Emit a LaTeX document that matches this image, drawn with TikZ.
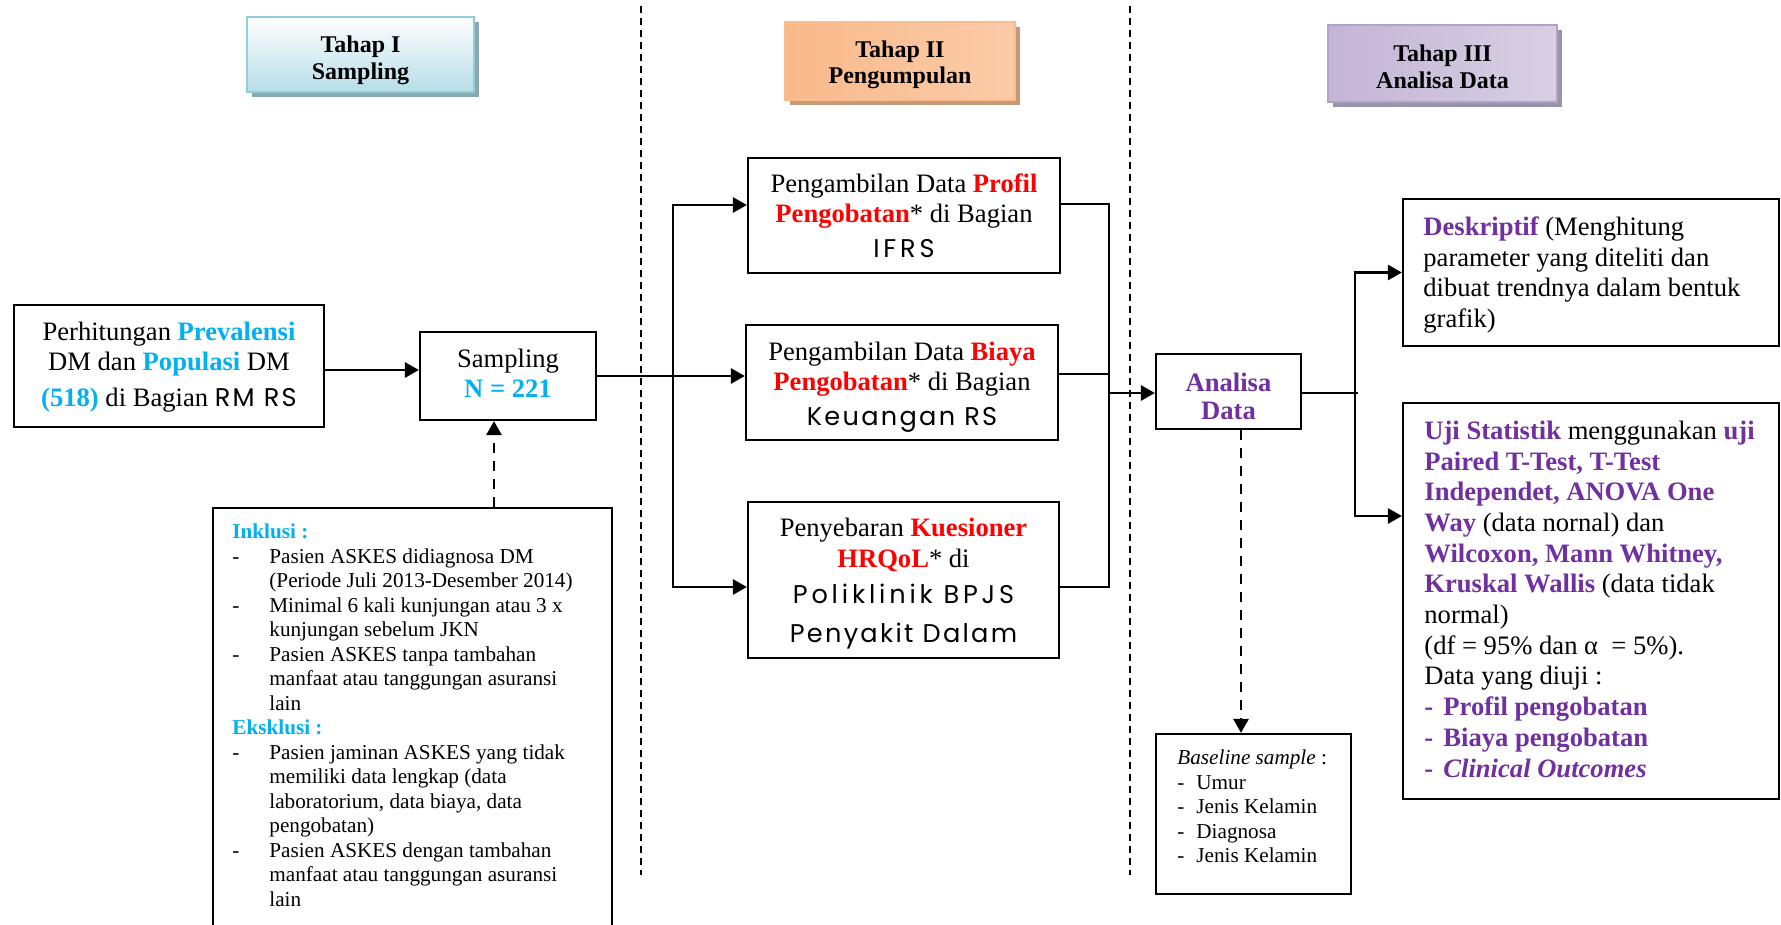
\documentclass[tikz,border=0pt]{standalone}
\usepackage{fontspec}
\setmainfont{Liberation Serif}
\newfontfamily\gothic{Poppins}[LetterSpace=9]
\newfontfamily\gothicw{Poppins}[LetterSpace=15]
\usetikzlibrary{arrows.meta,calc,shadows}

\definecolor{cyanb}{HTML}{00B0F0}
\definecolor{redb}{HTML}{FF0000}
\definecolor{purp}{HTML}{7030A0}
\definecolor{tAline}{HTML}{92CDDC}
\definecolor{tAbot}{HTML}{B6DDE8}
\definecolor{tAshadow}{HTML}{8AA8B0}
\definecolor{tBline}{HTML}{F9BE8E}
\definecolor{tBleft}{HTML}{F9B98A}
\definecolor{tBmid}{HTML}{FDEBDD}
\definecolor{tBright}{HTML}{FBCBA8}
\definecolor{tBshadow}{HTML}{C49A78}
\definecolor{tCline}{HTML}{B2A2C7}
\definecolor{tCleft}{HTML}{C3B5D6}
\definecolor{tCmid}{HTML}{F1EEF5}
\definecolor{tCright}{HTML}{D8CFE4}
\definecolor{tCshadow}{HTML}{9696A4}

\newcommand\cy[1]{\textbf{\color{cyanb}#1}}
\newcommand\rd[1]{\textbf{\color{redb}#1}}
\newcommand\pu[1]{\textbf{\color{purp}#1}}
\newcommand\inkdash{\makebox[18.5pt][l]{-}}
\newcommand\inkind{\hspace*{18.5pt}}
\newcommand\bldash{\makebox[9.5pt][l]{-}}
\newcommand\pudash{\makebox[9.5pt][l]{\pu{-}}}
\newcommand\bodysz{\fontsize{13.3}{15}\selectfont}
\newcommand\smallsz{\fontsize{10.6}{12.25}\selectfont}
\newcommand\tahapsz{\bfseries\fontsize{12}{13.2}\selectfont}
\newcommand\gsz{\gothic\fontsize{12.8}{15}\selectfont}
\newcommand\gwsz{\gothicw\fontsize{12.8}{15}\selectfont}
% invisible struts that move a centred text block down or up
\newcommand\lift[1]{\rule{0pt}{#1}}
\newcommand\sink[1]{\rule[-#1]{0pt}{0pt}}

\begin{document}
\begin{tikzpicture}[x=0.5pt,y=-0.5pt,
  size/.style 2 args={minimum width=#1*0.5pt, minimum height=#2*0.5pt},
  box/.style={draw, line width=1.1pt, inner sep=0pt, align=center, font=\bodysz},
  frame/.style={draw, line width=1.1pt, inner sep=0pt},
  txt/.style={inner sep=0pt, align=left},
  tahap/.style={draw, line width=1pt, inner sep=0pt, align=center, font=\tahapsz},
  arr/.style={line width=1.4pt, -{Triangle[length=7pt,width=7.5pt]}},
  darr/.style={line width=1.4pt, dash pattern=on 5pt off 4pt, -{Triangle[length=7pt,width=7.5pt]}},
  ln/.style={line width=0.9pt},
  sep/.style={line width=0.75pt, dash pattern=on 3.5pt off 2.5pt}]

\fill[white] (0,0) rectangle (1781,925);
\useasboundingbox (0,0) rectangle (1781,925);

% stage separators
\draw[sep] (641,6) -- (641,875);
\draw[sep] (1130,6) -- (1130,875);

% stage headers
\node[tahap, size={227}{75}, draw=tAline, top color=white, bottom color=tAbot,
  drop shadow={shadow xshift=2.5pt, shadow yshift=-2.5pt, fill=tAshadow, opacity=1}]
  (t1) at (360.5,54.5) {\lift{14.2pt}Tahap I\\Sampling};
\node[tahap, size={230}{78}, draw=tBline, left color=tBleft, middle color=tBmid, right color=tBright,
  drop shadow={shadow xshift=2.5pt, shadow yshift=-2.5pt, fill=tBshadow, opacity=1}]
  (t2) at (900,61) {\lift{12.2pt}Tahap II\\Pengumpulan};
\node[tahap, size={229}{77}, draw=tCline, left color=tCleft, middle color=tCmid, right color=tCright,
  drop shadow={shadow xshift=2.5pt, shadow yshift=-2.5pt, fill=tCshadow, opacity=1}]
  (t3) at (1442.5,63.5) {\lift{11.6pt}Tahap III\\Analisa Data};

% stage I
\node[box, size={310}{122}] (L) at (169,366)
  {\lift{10.5pt}Perhitungan \cy{Prevalensi}\\ DM dan \cy{Populasi} DM\\[3pt] \cy{(518)} di Bagian {\gsz RM RS}};
\node[box, size={176}{88}] (S) at (508,376) {Sampling\\ \cy{N = 221}\sink{3pt}};
\node[frame, anchor=north west, size={399}{440}] (I) at (212,507) {};
\node[txt, anchor=north west, font=\smallsz] (Itxt) at (232,523.5) {%
\cy{Inklusi :}\\
\inkdash Pasien ASKES didiagnosa DM\\
\inkind (Periode Juli 2013-Desember 2014)\\
\inkdash Minimal 6 kali kunjungan atau 3 x\\
\inkind kunjungan sebelum JKN\\
\inkdash Pasien ASKES tanpa tambahan\\
\inkind manfaat atau tanggungan asuransi\\
\inkind lain\\
\cy{Eksklusi :}\\
\inkdash Pasien jaminan ASKES yang tidak\\
\inkind memiliki data lengkap (data\\
\inkind laboratorium, data biaya, data\\
\inkind pengobatan)\\
\inkdash Pasien ASKES dengan tambahan\\
\inkind manfaat atau tanggungan asuransi\\
\inkind lain};

% stage II
\node[box, size={312}{115}] (P1) at (904,215.5)
  {Pengambilan Data \rd{Profil}\\ \rd{Pengobatan}* di Bagian\\[2.5pt] {\gwsz IFRS}};
\node[box, size={312}{115}] (P2) at (902,382.5)
  {\lift{14.2pt}Pengambilan Data \rd{Biaya}\\ \rd{Pengobatan}* di Bagian\\[2.5pt] {\gsz Keuangan RS}};
\node[box, size={311}{156}] (P3) at (903.5,580)
  {\lift{12.6pt}Penyebaran \rd{Kuesioner}\\[0.5pt] \rd{HRQoL}* di\\[3pt] {\gwsz Poliklinik BPJS}\\[4.5pt] {\gsz Penyakit Dalam}};

% stage III
\node[box, size={145}{75}, font=\bfseries\fontsize{13.3}{14.3}\selectfont, text=purp] (A) at (1228.5,391.5)
  {\lift{14.2pt}Analisa\\Data};
\node[frame, size={195}{160}] (B) at (1253.5,814) {};
\node[txt, anchor=north west, font=\smallsz] (Btxt) at (1177,749.6) {%
\textit{Baseline sample} :\\
\bldash Umur\\
\bldash Jenis Kelamin\\
\bldash Diagnosa\\
\bldash Jenis Kelamin};
\node[frame, size={376}{147}] (D) at (1591,272.5) {};
\node[txt, anchor=north west, font=\fontsize{13.3}{15.25}\selectfont] (Dtxt) at (1423,216.5) {%
\pu{Deskriptif} (Menghitung\\
parameter yang diteliti dan\\
dibuat trendnya dalam bentuk\\
grafik)};
\node[frame, size={376}{396}] (U) at (1591,601) {};
\node[txt, anchor=north west, font=\fontsize{13.3}{15.35}\selectfont] (Utxt) at (1424,420.5) {%
\pu{Uji Statistik} menggunakan \pu{uji}\\
\pu{Paired T-Test, T-Test}\\
\pu{Independet, ANOVA One}\\
\pu{Way} (data nornal) dan\\
\pu{Wilcoxon, Mann Whitney,}\\
\pu{Kruskal Wallis} (data tidak\\
normal)\\
(df = 95\% dan α\enspace = 5\%).\\
Data yang diuji :\\
\pudash\pu{Profil pengobatan}\\
\pudash\pu{Biaya pengobatan}\\
\pudash{\color{purp}\bfseries\itshape Clinical Outcomes}};

% connectors: stage I
\draw[arr] ([yshift=-2pt]L.east) -- ([yshift=-2pt]L.east -| S.west);
\coordinate (sd) at ($(S.south)+(-14,0)$);
\draw[darr] (sd |- I.north) -- (sd);

% connectors: stage I to stage II
\draw[arr] (S.east) -- (S.east -| P2.west);
\coordinate (fk) at (673,376);
\draw[arr] (fk) |- ([yshift=5.25pt]P1.west);
\draw[arr] (fk) |- ([yshift=-3.5pt]P3.west);

% connectors: stage II to stage III
\coordinate (cr) at (1109,393);
\coordinate (c1) at ([yshift=5.75pt]P1.east);
\coordinate (c2) at ([yshift=4.25pt]P2.east);
\coordinate (c3) at ([yshift=-3.5pt]P3.east);
\draw[ln] (c1) -| (cr) |- (c3);
\draw[ln] (c2) -- (c2 -| cr);
\draw[arr] (cr) -- (cr -| A.west);

% connectors: analysis branches
\coordinate (ca) at (1355,393);
\draw[ln] (A.east |- ca) -- ([xshift=1.5pt]ca);
\draw[arr] (ca) |- (D.west);
\draw[arr] (ca) |- ([yshift=42.5pt]U.west);
\coordinate (ad) at ([xshift=6.25pt]A.south);
\draw[darr] (ad) -- (ad |- B.north);

\end{tikzpicture}
\end{document}
